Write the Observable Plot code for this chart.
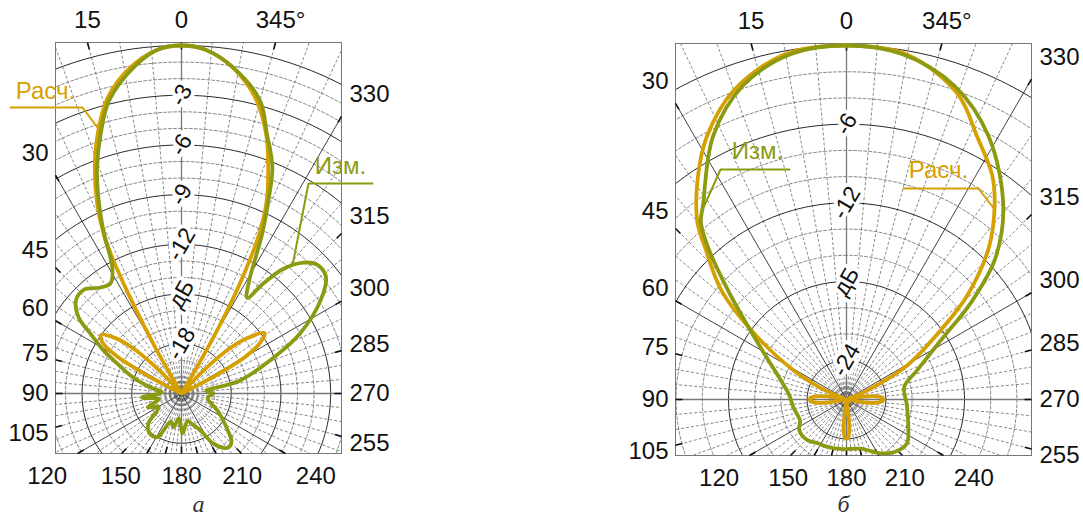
<!DOCTYPE html>
<html><head><meta charset="utf-8">
<script src="https://cdn.jsdelivr.net/npm/d3@7"></script>
<script src="https://cdn.jsdelivr.net/npm/@observablehq/plot@0.6"></script>
<style>
body{margin:0;background:#fff;}
#wrap{position:relative;width:1083px;height:517px;overflow:hidden;}
#pa,#pb{position:absolute;top:0;}
#pa{left:0}#pb{left:541px}
</style></head><body><div id="wrap"><div id="pa"></div><div id="pb"></div></div>
<script>
// ---- tick labels ----
const angleTop = [15, 0, 345];
const angleLeft = [30, 45, 60, 75, 90, 105];
const angleRight = [330, 315, 300, 285, 270, 255];
const angleBottom = [120, 150, 180, 210, 240];

const aDbTicks = [-3, -6, -9, -12, -15, -18];
const aDbText = ["-3", "-6", "-9", "-12", "дБ", "-18"];
const bDbTicks = [-6, -12, -18, -24];
const bDbText = ["-6", "-12", "дБ", "-24"];

const seriesNames = ["Расч.", "Изм."];

// ---- panel а: calculated (Расч.) ----
const aCalcDeg = [0,4,9,14,18,21,24,26,27,28,29,30,31.5,40,44,47,50,54,57,60,62,64,296,298,300,303,306,310,313,316,320,328.5,330,331,332,333,334,336,339,342,346,351,356];
const aCalcDb  = [0,-0.2,-1.1,-2.6,-4.6,-6.4,-8.5,-10.3,-11.8,-14,-16.5,-18.5,-21,-21,-19,-17,-15.8,-15,-15.3,-16.5,-18.5,-21,-21,-18.5,-16.5,-15.3,-14.8,-15.8,-17,-19,-21,-21,-18,-15.6,-13.5,-11.8,-10.3,-8.4,-6.4,-4.5,-2.6,-1.1,-0.2];
// ---- panel а: measured (Изм.) ----
const aMeasDeg = [0,4,8.3,13.9,17.3,20.5,23.2,25.9,28.7,32.8,37.4,43.3,48.5,53.6,56.6,61,64.9,71.6,79,86,95.9,104,112.4,120,125.3,132.3,142.2,151.4,159,166.8,174,181.5,192.5,200,207.2,212.6,220.4,226,231.2,244.7,255,261,270,276,282.4,291.4,296.8,303.8,308.9,313.3,317,320.8,323.3,325.5,328.7,332,333.2,335.8,338.1,341.8,345,350.9,356];
const aMeasDb  = [0,-0.2,-1.1,-2.8,-4.6,-6.45,-8.3,-10.3,-12.3,-13.1,-12.95,-12.4,-12.5,-13.3,-14.4,-15.6,-16.7,-17.9,-19.1,-19.8,-18.6,-19.6,-18.8,-19.4,-19.2,-18.3,-17.9,-18,-19.2,-18.9,-19.5,-18.6,-19.3,-19,-18.5,-17.4,-16.7,-16.8,-17.4,-18.6,-19.3,-19.4,-19.1,-19.5,-17.4,-15,-13,-10.9,-9.8,-9.7,-10.2,-11.3,-12.7,-14,-13.2,-11.2,-10.2,-8.2,-6.3,-4.5,-2.7,-1.1,-0.2];

// ---- panel б: calculated (Расч.) ----
const bCalcDeg = [0,10,20,28,34,40,43,49,54.8,61.2,66,70,78,81,85,90,95,99,102,171,174,177.5,180,182.5,186,189,258,261,265,270,275,279,282,289,293.5,299.3,306.3,310.8,316.9,322.6,327,333.6,340,350];
const bCalcDb  = [0,-0.25,-1.9,-4.3,-6.7,-9.3,-11.2,-14.4,-18.6,-22.4,-25,-27,-27,-25.5,-24.5,-24.2,-24.5,-25.5,-27,-27,-25,-24.1,-24,-24.1,-25,-27,-27,-25.5,-24.5,-24.2,-24.5,-25.5,-27,-27,-25.3,-21.7,-18.1,-14.8,-11.1,-8.4,-6.6,-4.6,-2.2,-0.3];
// ---- panel б: measured (Изм.) ----
const bMeasDeg = [0,9,18.3,26.9,36.5,39.4,42.3,47.5,52.5,58.7,66,73.9,85,98.3,114.5,123,136.2,146,158,176,195.9,211.6,221.9,233.9,245,253,265.9,282.1,292.3,302.1,308,313.6,321,331.6,341,351];
const bMeasDb  = [0,-0.3,-1.8,-4.5,-8.6,-9.5,-11.3,-14.8,-17.3,-19.3,-20.8,-21.8,-22.6,-22.9,-23.1,-22.7,-22.7,-23,-23.1,-23.2,-23.1,-22.2,-21.6,-21.3,-21.8,-22.1,-22.4,-22.5,-21.2,-18.5,-14.9,-11.3,-8,-4.2,-1.7,-0.3];

const calcColor = "#d6a000";
const measColor = "#8c9a12";
const sans = "'Liberation Sans', Arial, sans-serif";

function buildPanel(cfg, calc, meas, dbTicks, dbText) {
  const {width, height, cx, cy, k, floor, box} = cfg;
  const [bx0, by0, bx1, by1] = box;
  const X = p => (p - cx) / k, Y = p => (cy - p) / k;
  const xmin = X(bx0), xmax = X(bx1), ymin = Y(by1), ymax = Y(by0);
  const rad = d => d * Math.PI / 180;
  const pol = (deg, r) => ({x: -r * Math.sin(rad(deg)), y: r * Math.cos(rad(deg))});
  const rOf = db => Math.max(db - floor, 0);

  // grid circles
  const circles = [];
  for (let i = 0; -i * cfg.minor > floor; i++) {
    const db = -i * cfg.minor;
    const major = (Math.round(-db) % cfg.major) === 0;
    for (let a = 0; a <= 360; a += 2) circles.push({...pol(a, rOf(db)), id: db, major});
  }
  for (const px of cfg.inner) {
    for (let a = 0; a <= 360; a += 6) circles.push({...pol(a, px / k), id: "in" + px, major: false});
  }
  // radial lines
  const radials = [];
  for (let a = 0; a < 360; a += 5) {
    const e = pol(a, 40);
    radials.push({x1: 0, y1: 0, x2: e.x, y2: e.y,
      kind: a % 90 === 0 ? "axis" : a % 30 === 0 ? "major" : "minor"});
  }
  function edge(deg) {
    const dx = -Math.sin(rad(deg)), dy = Math.cos(rad(deg));
    let t = Infinity;
    if (dx > 1e-9) t = Math.min(t, xmax / dx);
    if (dx < -1e-9) t = Math.min(t, xmin / dx);
    if (dy > 1e-9) t = Math.min(t, ymax / dy);
    if (dy < -1e-9) t = Math.min(t, ymin / dy);
    return {t, x: t * dx, y: t * dy, dx, dy};
  }
  const ticks = [];
  for (let a = 0; a < 360; a += 15) {
    const e = edge(a);
    const t2 = e.t - 7 / k;
    ticks.push({x1: e.x, y1: e.y, x2: t2 * e.dx, y2: t2 * e.dy});
  }
  // angle labels
  const labels = [];
  for (const d of angleTop) {
    const e = edge(d);
    labels.push({x: e.x + (d === 345 ? 5 / k : 0), y: Y(by0 - 22), text: d === 345 ? "345°" : String(d), anchor: "middle"});
  }
  for (const d of angleLeft) {
    const e = edge(d);
    labels.push({x: X(bx0 - 7), y: e.y + 25 * Math.cos(rad(d)) / k, text: String(d), anchor: "end"});
  }
  for (const d of angleRight) {
    const e = edge(d);
    labels.push({x: X(bx1 + 8), y: e.y + 25 * Math.cos(rad(d)) / k, text: String(d), anchor: "start"});
  }
  for (const d of angleBottom) {
    const e = edge(d);
    const off = d === 180 ? 0 : (20 + 12 * Math.abs(Math.sin(rad(d)))) * Math.sign(e.x);
    labels.push({x: e.x + off / k, y: Y(by1 + 23), text: String(d), anchor: "middle"});
  }
  const dbLabels = dbTicks.map((db, i) => ({x: 0, y: rOf(db), text: dbText[i]}));

  const toXY = (degs, dbs) => degs.map((d, i) => pol(d, rOf(dbs[i])));
  const calcPts = toXY(calc[0], calc[1]);
  const measPts = toXY(meas[0], meas[1]);

  const notes = cfg.notes.map(n => ({
    ...n, tx: X(n.tx), ty: Y(n.ty), path: n.path.map(([px, py]) => ({x: X(px), y: Y(py)}))
  }));

  const marks = [
    Plot.line(circles.filter(d => !d.major), {x: "x", y: "y", z: "id", stroke: "#555", strokeWidth: 0.7, strokeDasharray: "3,2", clip: true}),
    Plot.link(radials.filter(d => d.kind === "minor"), {x1: "x1", y1: "y1", x2: "x2", y2: "y2", stroke: "#555", strokeWidth: 0.7, strokeDasharray: "3,2", clip: true}),
    Plot.line(circles.filter(d => d.major), {x: "x", y: "y", z: "id", stroke: "#111", strokeWidth: 0.9, clip: true}),
    Plot.link(radials.filter(d => d.kind === "major"), {x1: "x1", y1: "y1", x2: "x2", y2: "y2", stroke: "#111", strokeWidth: 0.8, clip: true}),
    Plot.link(radials.filter(d => d.kind === "axis"), {x1: "x1", y1: "y1", x2: "x2", y2: "y2", stroke: "#777", strokeWidth: 1.3, clip: true}),
    Plot.frame({stroke: "#777", strokeWidth: 1}),
    Plot.link(ticks, {x1: "x1", y1: "y1", x2: "x2", y2: "y2", stroke: "#111", strokeWidth: 1.6}),
    Plot.text(dbLabels, {x: "x", y: "y", text: "text", rotate: -60, fontSize: 23, fontFamily: sans, fill: "#111", stroke: "white", strokeWidth: 8}),
    Plot.line(calcPts, {x: "x", y: "y", curve: "catmull-rom-closed", stroke: calcColor, strokeWidth: 3.8, clip: true}),
    Plot.line(measPts, {x: "x", y: "y", curve: "catmull-rom-closed", stroke: measColor, strokeWidth: 3.8, clip: true}),
    Plot.text(labels.filter(d => d.anchor === "middle"), {x: "x", y: "y", text: "text", textAnchor: "middle", fontSize: 24, fontFamily: sans, fill: "#111"}),
    Plot.text(labels.filter(d => d.anchor === "end"), {x: "x", y: "y", text: "text", textAnchor: "end", fontSize: 24, fontFamily: sans, fill: "#111"}),
    Plot.text(labels.filter(d => d.anchor === "start"), {x: "x", y: "y", text: "text", textAnchor: "start", fontSize: 24, fontFamily: sans, fill: "#111"}),
  ];
  for (const n of notes) {
    marks.push(Plot.line(n.path, {x: "x", y: "y", stroke: n.color, strokeWidth: 2}));
    marks.push(Plot.text([n], {x: "tx", y: "ty", text: "text", fill: n.color, fontSize: 24, fontFamily: sans}));
  }
  marks.push(Plot.text([cfg.caption], {x: X(cfg.capX), y: Y(cfg.capY), text: d => d, fontSize: 24, fontFamily: "'Liberation Serif', 'Times New Roman', serif", fontStyle: "italic", fill: "#333"}));

  return Plot.plot({
    width, height,
    marginLeft: bx0, marginRight: width - bx1, marginTop: by0, marginBottom: height - by1,
    x: {domain: [xmin, xmax], axis: null},
    y: {domain: [ymin, ymax], axis: null},
    style: {background: "white", overflow: "visible"},
    marks
  });
}

const cfgA = {
  width: 541, height: 517, cx: 181, cy: 393, k: 348 / 21, floor: -21, minor: 1, major: 3,
  box: [55, 42, 341, 453], inner: [4, 8, 12],
  notes: [
    {text: seriesNames[0], color: calcColor, tx: 45, ty: 91, path: [[10, 107], [82, 107], [97, 127]]},
    {text: seriesNames[1], color: measColor, tx: 340, ty: 166, path: [[372, 183], [308, 183], [292, 265]]}
  ],
  caption: "а", capX: 198, capY: 504
};
const cfgB = {
  width: 542, height: 517, cx: 305, cy: 399, k: 354 / 27, floor: -27, minor: 2, major: 6,
  box: [134, 43, 490, 455], inner: [4, 8],
  notes: [
    {text: seriesNames[1], color: measColor, tx: 216, ty: 151, path: [[248, 169], [179, 169], [162, 207]]},
    {text: seriesNames[0], color: calcColor, tx: 397, ty: 170, path: [[362, 188], [437, 188], [454, 210]]}
  ],
  caption: "б", capX: 302, capY: 504
};

document.getElementById("pa").appendChild(buildPanel(cfgA, [aCalcDeg, aCalcDb], [aMeasDeg, aMeasDb], aDbTicks, aDbText));
document.getElementById("pb").appendChild(buildPanel(cfgB, [bCalcDeg, bCalcDb], [bMeasDeg, bMeasDb], bDbTicks, bDbText));
</script>
</body></html>
